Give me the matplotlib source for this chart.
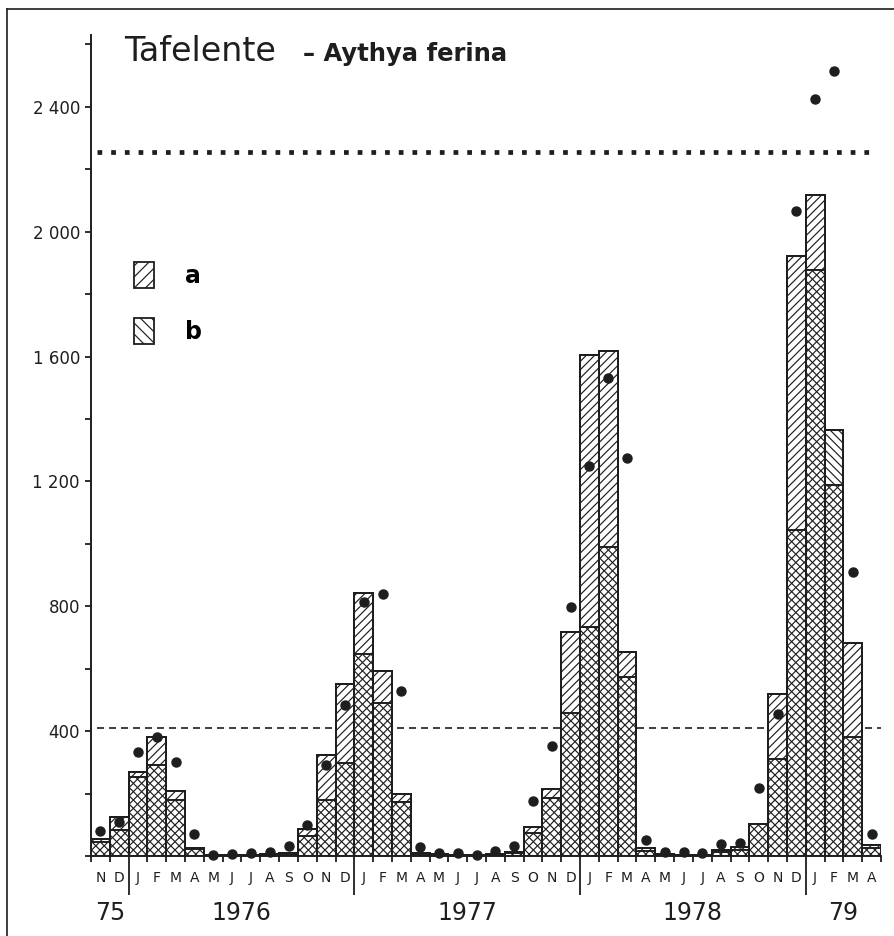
import matplotlib

matplotlib.use("Agg")

import matplotlib.pyplot as plt
import numpy as np
from matplotlib.lines import Line2D
from matplotlib.patches import Patch

# Monthly counts, Nov 1975 .. Apr 1979 (42 months)
months = list("ND") + list("JFMAMJJASOND") * 3 + list("JFMA")
year_labels = ["75", "1976", "1977", "1978", "79"]
year_months = [2, 12, 12, 12, 4]

count_a = [55, 125, 270, 381, 209, 26, 2, 2, 4, 8, 10, 85,
           324, 551, 842, 593, 199, 10, 6, 3, 3, 6, 12, 92,
           214, 717, 1604, 1618, 653, 25, 5, 4, 4, 19, 28, 103,
           519, 1921, 2116, 1189, 681, 35]
count_b = [45, 83, 252, 292, 179, 22, 2, 2, 3, 6, 8, 64,
           179, 299, 646, 491, 174, 8, 5, 3, 2, 5, 10, 75,
           186, 458, 735, 989, 575, 15, 4, 3, 3, 14, 20, 103,
           311, 1043, 1878, 1365, 380, 25]
dots = [81, 110, 334, 382, 300, 71, 4, 5, 10, 14, 32, 100,
        292, 484, 813, 839, 529, 28, 11, 10, 4, 17, 32, 176,
        352, 798, 1248, 1532, 1276, 51, 12, 13, 11, 37, 42, 219,
        455, 2065, 2425, 2514, 909, 70]

level_high = 2255
level_low = 410

INK = "#1e1e1e"
plt.rcParams["hatch.linewidth"] = 0.85
plt.rcParams["font.family"] = "DejaVu Sans"


def _fmt(v: int) -> str:
    """Label every 400 with a spaced thousands group, blank otherwise."""
    if v == 0 or v % 400:
        return ""
    return f"{v // 1000} {v % 1000:03d}" if v >= 1000 else str(v)


fig = plt.figure(figsize=(8.94, 9.36), dpi=100)
fig.patch.set_facecolor("white")
ax = fig.add_axes([91 / 894, 80 / 936, 790 / 894, 821 / 936])

n = len(months)
x = np.arange(n) + 0.5
a = np.array(count_a)
b = np.array(count_b)
top = np.maximum(a, b)

# reference lines sit behind the white bars
ax.plot([0.32, 41.76], [level_high, level_high], color=INK, lw=3.4,
        linestyle=(0, (1, 1.9)), dash_capstyle="butt", zorder=1)
ax.plot([0.32, 42], [level_low, level_low], color=INK, lw=1.2,
        linestyle=(0, (4.2, 3.0)), zorder=1)

ax.bar(x, top, width=1.0, color="white", edgecolor=INK, linewidth=1.4, zorder=3)
ax.bar(x, a, width=1.0, fill=False, hatch="////", edgecolor=INK, linewidth=1.4, zorder=4)
ax.bar(x, b, width=1.0, fill=False, hatch="\\\\\\\\", edgecolor=INK, linewidth=1.4, zorder=4)
ax.plot(x, dots, "o", color=INK, markersize=6.5, zorder=6, clip_on=False)

ax.set_xlim(0, n)
ax.set_ylim(0, 2630)
for side in ("top", "right"):
    ax.spines[side].set_visible(False)
for side in ("left", "bottom"):
    ax.spines[side].set_linewidth(1.4)
    ax.spines[side].set_color(INK)

# y ticks every 200, labelled every 400
yt = np.arange(0, 2601, 200)
ax.set_yticks(yt)
ax.set_yticklabels([_fmt(int(v)) for v in yt])
ax.tick_params(axis="y", direction="out", length=4, width=1.3, color=INK, pad=4,
               labelsize=12, labelcolor=INK)

# x ticks: month boundaries short, year boundaries long
bounds = np.cumsum(year_months)[:-1]
ax.set_xticks(bounds)
ax.set_xticklabels([])
ax.set_xticks([i for i in range(n + 1) if i not in bounds], minor=True)
ax.tick_params(axis="x", which="major", direction="out", length=28, width=1.3, color=INK)
ax.tick_params(axis="x", which="minor", direction="out", length=4, width=1.3, color=INK)

for xi, m in zip(x, months):
    ax.annotate(m, xy=(xi, 0), xycoords=("data", "axes fraction"), xytext=(0, -16),
                textcoords="offset points", ha="center", va="center", fontsize=10, color=INK)

start = 0
for lbl, cnt in zip(year_labels, year_months):
    ax.annotate(lbl, xy=(start + cnt / 2, 0), xycoords=("data", "axes fraction"), xytext=(0, -41),
                textcoords="offset points", ha="center", va="center", fontsize=17, color=INK)
    start += cnt

# title
fig.text(124 / 894, 1 - 61 / 936, "Tafelente", fontsize=24, color=INK, va="baseline")
fig.text(303 / 894, 1 - 61 / 936, "– Aythya ferina", fontsize=17.5, fontweight="bold",
         color=INK, va="baseline")

handles = [Patch(facecolor="white", edgecolor=INK, hatch="///", linewidth=1.3),
           Patch(facecolor="white", edgecolor=INK, hatch="\\\\\\", linewidth=1.3)]
fig.legend(handles, ["a", "b"], loc="upper left", bbox_to_anchor=(134 / 894, 1 - 262 / 936),
           bbox_transform=fig.transFigure, frameon=False, borderpad=0, borderaxespad=0,
           handlelength=0.85, handleheight=1.3, labelspacing=1.27, handletextpad=1.3,
           prop={"size": 17, "weight": "bold"})

# scan frame
fig.add_artist(Line2D([7 / 894, 7 / 894], [0, 1 - 9 / 936], transform=fig.transFigure,
                      color=INK, lw=1.2))
fig.add_artist(Line2D([7 / 894, 1], [1 - 9 / 936, 1 - 9 / 936], transform=fig.transFigure,
                      color=INK, lw=1.2))

fig.savefig("out.png", dpi=100)
